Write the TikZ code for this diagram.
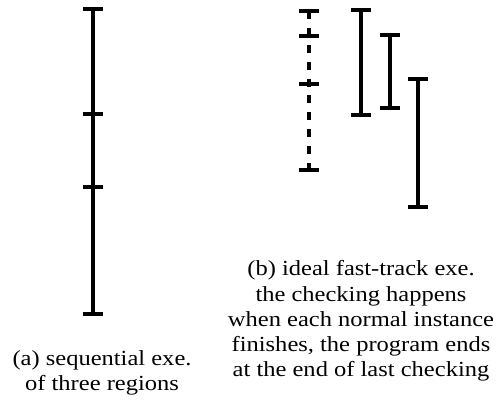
\documentclass[tikz,border=0pt]{standalone}
\usepackage{fontspec}
\setmainfont{Liberation Serif}
\newfontfamily\capfont[FakeStretch=1.14]{Liberation Serif}
\usetikzlibrary{calc}
\tikzset{
	regionbar/.style={line width=3.5pt},
	bartick/.style={line width=3.5pt},
	caption/.style={align=center, inner sep=0pt, anchor=base, font=\capfont\fontsize{21.5}{25.3}\selectfont}
}
\def\tickat(#1,#2){\draw[bartick] (#1-9.7,#2) -- (#1+9.7,#2);}
\def\interval[#1](#2)(#3:#4){\draw[#1] (#2,#3) -- (#2,#4); \tickat(#2,#3) \tickat(#2,#4)}

\begin{document}
\begin{tikzpicture}[x=1pt, y=-1pt]
		%%%%% START %%%%%
		\useasboundingbox (0, 0) rectangle (499, 401);
		
		% (a) three regions one after the other
		\interval[regionbar](93)(9:314)
		\tickat(93,114)
		\tickat(93,187)
		
		% (b) dashed line with the normal instances
		\draw[regionbar, dash pattern=on 8pt off 8.9pt] (309, 11) -- (309, 170);
		\tickat(309,11)
		\tickat(309,36)
		\tickat(309,84)
		\tickat(309,170)
		
		% (b) the checking of each instance
		\interval[regionbar](361)(10:115)
		\interval[regionbar](390)(35:108)
		\interval[regionbar](418)(79:207)
		
		% base is the baseline of the last line
		\node[caption] (capa) at (102, 391) {(a) sequential exe.\\of three regions};
		\node[caption] (capb) at (361, 377) {(b) ideal fast-track exe.\\the checking happens\\when each normal instance\\finishes, the program ends\\at the end of last checking};
		%%%%% END %%%%%
	\end{tikzpicture}
\end{document}
